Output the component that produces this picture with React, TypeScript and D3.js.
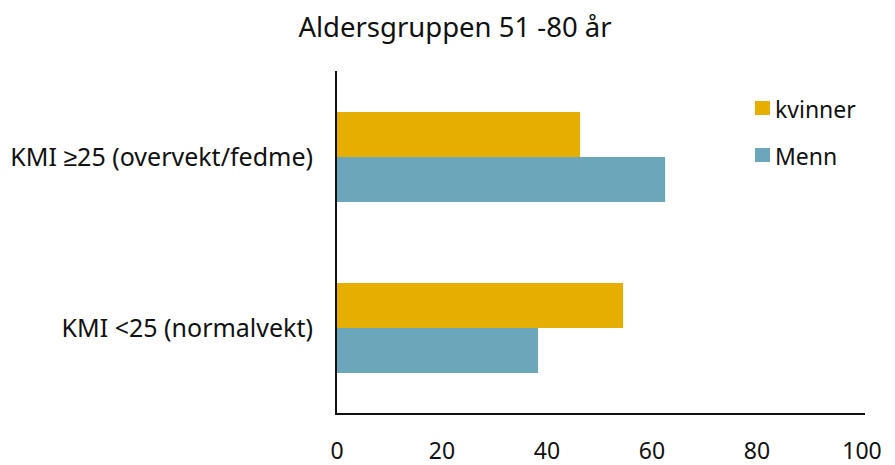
import React from "react";
import * as d3 from "d3";

const categories = ["KMI ≥25 (overvekt/fedme)", "KMI <25 (normalvekt)"];
const seriesNames = ["kvinner", "Menn"];
const kvinner = [46.3, 54.5];
const menn = [62.5, 38.3];
const xTicks = [0, 20, 40, 60, 80, 100];
const title = "Aldersgruppen 51 -80 år";
const colors = ["#E6AF00", "#6CA6BA"];

export default function App() {
  const W = 895, H = 465;
  const font = "'Noto Sans', sans-serif";
  const x = d3.scaleLinear().domain([0, 100]).range([337, 862]);
  const y = d3.scaleBand<string>().domain(categories).range([71.5, 413.5]).paddingInner(81 / 171).paddingOuter(40.5 / 171);
  const inner = d3.scaleBand<string>().domain(seriesNames).range([0, y.bandwidth()]);
  const values = [kvinner, menn];
  return (
    <svg width={W} height={H} style={{ position: "absolute", left: 0, top: 0 }} fontFamily={font}>
      <rect width={W} height={H} fill="#fff" />
      <text x={455} y={37} textAnchor="middle" fontSize={27.5} fill="#111">{title}</text>
      {categories.map((c, i) => (
        <g key={c}>
          {seriesNames.map((s, j) => (
            <rect key={s} x={x(0)} y={(y(c) as number) + (inner(s) as number)} width={x(values[j][i]) - x(0)} height={inner.bandwidth()} fill={colors[j]} />
          ))}
          <text x={313} y={(y(c) as number) + y.bandwidth() / 2} dy="0.35em" textAnchor="end" fontSize={25} fill="#111">{c}</text>
        </g>
      ))}
      <line x1={336} x2={336} y1={71} y2={414} stroke="#111" strokeWidth={2} />
      <line x1={335} x2={865} y1={414} y2={414} stroke="#111" strokeWidth={2} />
      {xTicks.map(t => (
        <text key={t} x={x(t)} y={459} textAnchor="middle" fontSize={23} fill="#111">{t}</text>
      ))}
      {seriesNames.map((s, j) => (
        <g key={s} transform={`translate(755, ${101 + j * 47})`}>
          <rect width={15} height={14} fill={colors[j]} />
          <text x={20} y={17} fontSize={23} fill="#111">{s}</text>
        </g>
      ))}
    </svg>
  );
}
